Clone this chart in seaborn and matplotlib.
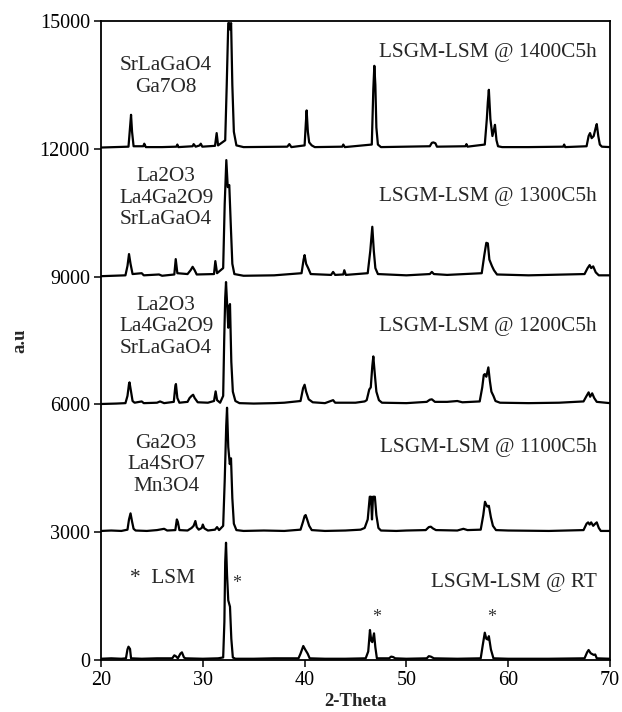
import matplotlib
matplotlib.use("Agg")
import matplotlib.pyplot as plt
import seaborn as sns
import pandas as pd

sns.set_style("ticks")
plt.rcParams["font.family"] = ["Liberation Serif", "DejaVu Serif"]

# XRD patterns of LSGM-LSM mixtures, stacked with 3000-count offsets
two_theta_rt = [20.0, 21.0, 22.0, 22.45, 22.6, 22.7, 22.85, 22.95, 24.0, 25.5, 27.0, 27.2, 27.35,
                27.55, 27.8, 27.95, 28.15, 28.3, 30.0, 31.5, 32.0, 32.12, 32.2, 32.28, 32.38, 32.5,
                32.67, 32.8, 32.95, 33.2, 35.0, 37.0, 39.4, 39.6, 39.87, 40.05, 40.3, 40.5, 42.0,
                44.0, 46.0, 46.25, 46.42, 46.55, 46.65, 46.82, 46.95, 47.1, 48.3, 48.5, 48.7, 48.9,
                50.0, 52.0, 52.2, 52.4, 52.7, 55.0, 57.3, 57.5, 57.7, 57.85, 58.0, 58.1, 58.3, 58.55,
                60.0, 64.0, 67.5, 67.75, 67.9, 68.1, 68.4, 68.55, 68.7, 70.0]
counts_rt = [30, 40, 30, 40, 250, 313, 260, 40, 30, 40, 40, 110, 90,
             40, 150, 180, 60, 40, 30, 40, 60, 900, 2300, 2753, 2000, 1400,
             1251, 500, 60, 30, 30, 40, 40, 150, 329, 250, 150, 40, 30,
             30, 40, 200, 704, 450, 420, 626, 300, 40, 40, 80, 70, 40,
             30, 40, 90, 80, 40, 30, 40, 350, 641, 500, 480, 560, 250, 40,
             30, 30, 40, 180, 235, 160, 120, 130, 40, 30]

two_theta_1100 = [20.0, 21.0, 22.0, 22.6, 22.75, 22.9, 23.05, 23.2, 23.4, 24.5, 25.5, 26.2, 26.5,
                  27.3, 27.45, 27.55, 27.7, 28.5, 28.9, 29.1, 29.27, 29.4, 29.6, 29.9, 30.0, 30.15,
                  30.5, 31.2, 31.4, 31.6, 32.0, 32.15, 32.3, 32.38, 32.5, 32.65, 32.77, 32.9, 33.05,
                  33.3, 34.0, 36.0, 38.0, 39.6, 39.85, 40.0, 40.1, 40.25, 40.45, 40.7, 42.0, 44.0,
                  45.5, 45.9, 46.2, 46.4, 46.52, 46.62, 46.72, 46.9, 47.05, 47.25, 47.5, 49.0, 50.0,
                  51.9, 52.2, 52.4, 52.6, 52.9, 55.0, 55.6, 56.0, 57.3, 57.55, 57.72, 57.82, 57.95,
                  58.1, 58.3, 58.5, 58.8, 60.0, 64.0, 67.4, 67.7, 67.85, 68.0, 68.15, 68.35, 68.55,
                  68.7, 68.9, 69.1, 70.0]
counts_1100 = [3030, 3040, 3030, 3060, 3300, 3443, 3250, 3080, 3040, 3030, 3050, 3080, 3040,
               3050, 3300, 3240, 3050, 3040, 3100, 3150, 3263, 3120, 3060, 3100, 3180, 3090,
               3040, 3060, 3120, 3050, 3150, 4200, 5500, 5922, 5000, 4600, 4734, 3800, 3200,
               3050, 3030, 3040, 3030, 3060, 3250, 3380, 3403, 3300, 3150, 3050, 3030, 3040,
               3060, 3100, 3300, 3833, 3833, 3300, 3833, 3833, 3400, 3100, 3040, 3030, 3040,
               3050, 3120, 3130, 3090, 3050, 3040, 3080, 3050, 3060, 3400, 3715, 3660, 3600,
               3620, 3350, 3150, 3050, 3040, 3030, 3050, 3200, 3231, 3180, 3231, 3150, 3200,
               3231, 3100, 3030, 3030]

two_theta_1200 = [20.0, 21.5, 22.4, 22.6, 22.75, 22.8, 22.95, 23.1, 23.3, 24.0, 24.2, 25.5, 25.8,
                  26.2, 27.15, 27.3, 27.36, 27.5, 27.7, 28.5, 28.7, 28.9, 29.05, 29.2, 29.5, 30.5,
                  31.1, 31.26, 31.4, 31.7, 32.0, 32.1, 32.2, 32.28, 32.4, 32.5, 32.6, 32.67, 32.8,
                  32.95, 33.2, 33.6, 35.0, 37.0, 38.0, 39.6, 39.85, 40.0, 40.15, 40.4, 40.8, 42.0,
                  42.8, 43.0, 45.0, 45.9, 46.1, 46.35, 46.5, 46.65, 46.75, 46.9, 47.05, 47.3, 47.6,
                  50.0, 52.0, 52.3, 52.5, 52.8, 54.0, 55.0, 55.5, 57.2, 57.45, 57.6, 57.7, 57.85,
                  58.05, 58.2, 58.35, 58.55, 58.75, 59.2, 62.0, 65.0, 67.4, 67.7, 67.9, 68.05, 68.25,
                  68.45, 68.7, 70.0]
counts_1200 = [6010, 6020, 6030, 6200, 6480, 6518, 6300, 6080, 6040, 6070, 6030, 6040, 6070,
               6030, 6060, 6430, 6478, 6150, 6040, 6060, 6150, 6200, 6227, 6150, 6050, 6040,
               6080, 6306, 6100, 6040, 6200, 7500, 8500, 8872, 8300, 7800, 8300, 8355, 7000,
               6300, 6080, 6030, 6020, 6030, 6040, 6080, 6380, 6462, 6300, 6120, 6050, 6030,
               6100, 6040, 6040, 6070, 6100, 6350, 6400, 6900, 7127, 6700, 6300, 6100, 6040,
               6030, 6060, 6110, 6120, 6060, 6060, 6080, 6050, 6070, 6400, 6690, 6712, 6650,
               6869, 6550, 6300, 6200, 6080, 6040, 6030, 6040, 6070, 6200, 6283, 6180, 6260,
               6150, 6060, 6030]

two_theta_1300 = [20.0, 22.4, 22.6, 22.75, 22.9, 23.1, 24.0, 24.2, 25.7, 26.0, 27.2, 27.34, 27.5,
                  28.5, 28.8, 29.0, 29.2, 29.4, 31.1, 31.23, 31.4, 32.0, 32.15, 32.31, 32.45, 32.6,
                  32.75, 32.9, 33.1, 34.0, 37.0, 39.7, 39.9, 40.0, 40.15, 40.35, 40.6, 42.6, 42.8,
                  43.0, 43.8, 43.9, 44.05, 46.2, 46.45, 46.65, 46.8, 46.95, 47.2, 50.0, 52.3, 52.5,
                  52.7, 54.0, 57.4, 57.65, 57.85, 58.0, 58.15, 58.4, 58.6, 58.9, 62.0, 67.5, 67.8,
                  68.0, 68.15, 68.35, 68.6, 68.9, 70.0]
counts_1300 = [9010, 9030, 9250, 9529, 9300, 9060, 9080, 9030, 9050, 9020, 9050, 9411, 9080,
               9060, 9150, 9230, 9150, 9050, 9060, 9364, 9080, 9200, 10700, 11735, 11100, 11149,
               10200, 9300, 9060, 9020, 9030, 9080, 9400, 9505, 9300, 9200, 9060, 9040, 9110,
               9040, 9050, 9150, 9040, 9080, 9600, 10170, 9600, 9200, 9060, 9030, 9060, 9110,
               9060, 9040, 9080, 9500, 9794, 9780, 9400, 9250, 9150, 9050, 9030, 9060, 9200,
               9270, 9200, 9240, 9100, 9030, 9030]

two_theta_1400 = [20.0, 22.7, 22.85, 22.95, 23.05, 23.2, 24.15, 24.25, 24.4, 26.0, 27.4, 27.5, 27.6,
                  29.0, 29.1, 29.3, 29.7, 29.8, 29.95, 31.2, 31.36, 31.5, 32.2, 32.35, 32.5, 32.6,
                  32.67, 32.78, 32.9, 33.05, 33.3, 34.0, 38.3, 38.5, 38.7, 40.0, 40.12, 40.2, 40.32,
                  40.45, 40.7, 41.0, 43.7, 43.8, 43.95, 46.6, 46.75, 46.85, 46.95, 47.05, 47.2, 47.5,
                  52.3, 52.5, 52.65, 52.85, 53.0, 55.8, 55.9, 56.0, 57.7, 57.9, 58.0, 58.1, 58.25,
                  58.45, 58.6, 58.7, 58.85, 59.0, 59.4, 62.0, 65.4, 65.5, 65.6, 67.7, 67.9, 68.04,
                  68.2, 68.4, 68.6, 68.7, 68.85, 69.0, 69.2, 70.0]
counts_1400 = [12030, 12050, 12500, 12798, 12400, 12060, 12060, 12120, 12040, 12040, 12050, 12100,
               12040, 12060, 12110, 12050, 12080, 12120, 12050, 12070, 12369, 12080, 12200, 13500,
               14950, 14950, 14800, 14950, 13500, 12400, 12080, 12040, 12050, 12110, 12040, 12080,
               12600, 12901, 12400, 12150, 12080, 12040, 12050, 12100, 12040, 12100, 13400, 13948,
               13500, 12500, 12100, 12040, 12060, 12140, 12150, 12130, 12050, 12060, 12110, 12050,
               12100, 12700, 13100, 13385, 12700, 12300, 12450, 12563, 12200, 12060, 12040, 12040,
               12050, 12100, 12040, 12060, 12300, 12369, 12250, 12300, 12500, 12580, 12300, 12100,
               12050, 12040]

sample_names = ["RT", "1100C5h", "1200C5h", "1300C5h", "1400C5h"]
angle_sets = [two_theta_rt, two_theta_1100, two_theta_1200, two_theta_1300, two_theta_1400]
count_sets = [counts_rt, counts_1100, counts_1200, counts_1300, counts_1400]

frames = []
for name, tt, cc in zip(sample_names, angle_sets, count_sets):
    frames.append(pd.DataFrame({"two_theta": tt, "counts": cc, "sample": name,
                                "order": range(len(tt))}))
xrd = pd.concat(frames, ignore_index=True)

fig = plt.figure(figsize=(6.22, 7.12), dpi=100)
ax = fig.add_axes([0.1624, 0.0730, 0.8183, 0.8975])

for name in sample_names:
    sns.lineplot(data=xrd[xrd["sample"] == name], x="two_theta", y="counts",
                 sort=False, estimator=None, color="black", linewidth=1.6, ax=ax)

ax.set_xlim(20, 70)
ax.set_ylim(0, 15000)
ax.set_xticks([20, 30, 40, 50, 60, 70])
ax.set_yticks([0, 3000, 6000, 9000, 12000, 15000])
ax.tick_params(direction="out", length=5, width=1.1, labelsize=14.5, colors="black", pad=3)
for side in ["left", "right", "top", "bottom"]:
    ax.spines[side].set_visible(True)
    ax.spines[side].set_linewidth(1.3)
    ax.spines[side].set_color("black")

ax.set_xlabel("2-Theta", fontsize=13.5, fontweight="bold", labelpad=2)
ax.set_ylabel("a.u", fontsize=13.5, fontweight="bold", labelpad=8)

# sample labels on the right
right_labels = ["LSGM-LSM @ RT", "LSGM-LSM @ 1100C5h", "LSGM-LSM @ 1200C5h",
                "LSGM-LSM @ 1300C5h", "LSGM-LSM @ 1400C5h"]
right_label_y = [1830, 4980, 7820, 10870, 14250]
for txt, yy in zip(right_labels, right_label_y):
    ax.text(68.72, yy, txt, ha="right", va="center", fontsize=15.3)

# phase identification labels on the left
phase_labels = ["SrLaGaO4\nGa7O8", "La2O3\nLa4Ga2O9\nSrLaGaO4",
                "La2O3\nLa4Ga2O9\nSrLaGaO4", "Ga2O3\nLa4SrO7\nMn3O4"]
phase_label_y = [13700, 10840, 7820, 4580]
for txt, yy in zip(phase_labels, phase_label_y):
    ax.text(26.4, yy, txt, ha="center", va="center", fontsize=15.3,
            linespacing=1.18, multialignment="center")

ax.text(22.85, 1920, "*  LSM", ha="left", va="center", fontsize=15.3)

# LSM reflections in the RT pattern
star_x = [33.36, 47.11, 58.41]
star_y = [1800, 990, 990]
for sx, sy in zip(star_x, star_y):
    ax.text(sx, sy, "*", ha="center", va="center", fontsize=13, color="#333333")

fig.savefig("out.png", dpi=100)
